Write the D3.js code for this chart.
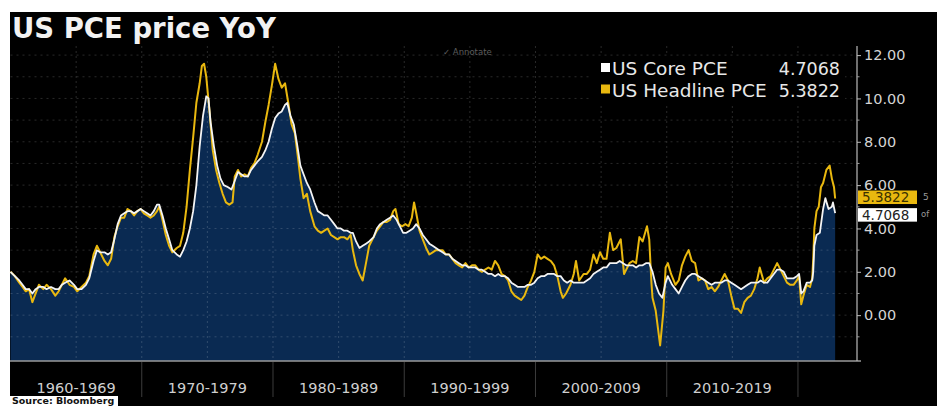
<!DOCTYPE html>
<html><head><meta charset="utf-8">
<script src="https://cdn.jsdelivr.net/npm/d3@7"></script>
<style>
html,body{margin:0;padding:0;background:#fff;}
svg{display:block;font-family:"DejaVu Sans",Verdana,sans-serif;}
</style></head><body>
<svg id="chart" width="937" height="406"></svg>
<script>
// US PCE price index, year-over-year %, monthly readings [month, value]
const headline = [
["1960-01",2.0],["1960-05",1.8],["1960-09",1.5],["1960-12",1.3],
["1961-03",1.1],["1961-06",1.2],["1961-09",0.6],["1961-12",1.0],
["1962-03",1.4],["1962-07",1.2],["1962-10",1.4],
["1963-02",1.2],["1963-06",0.9],["1963-09",1.1],["1963-12",1.4],
["1964-03",1.7],["1964-07",1.4],["1964-11",1.3],
["1965-02",1.1],["1965-06",1.3],["1965-10",1.5],
["1966-01",1.8],["1966-05",2.8],["1966-08",3.2],["1966-11",2.9],
["1967-03",2.5],["1967-06",2.3],["1967-09",2.6],["1967-12",3.6],
["1968-03",4.1],["1968-06",4.5],["1968-09",4.5],["1968-12",4.9],
["1969-03",4.8],["1969-06",4.6],["1969-09",4.8],["1969-12",4.9],
["1970-03",4.7],["1970-06",4.6],["1970-09",4.5],["1970-12",4.6],
["1971-03",4.8],["1971-05",5.0],["1971-08",4.4],["1971-11",3.7],
["1972-02",3.2],["1972-05",2.9],["1972-09",3.1],["1972-12",3.2],
["1973-03",3.8],["1973-06",5.0],["1973-09",6.7],["1973-12",8.2],
["1974-03",9.8],["1974-06",10.7],["1974-08",11.5],["1974-10",11.6],["1974-12",11.0],
["1975-03",9.4],["1975-06",7.6],["1975-09",6.7],["1975-12",6.1],
["1976-03",5.6],["1976-06",5.2],["1976-09",5.1],["1976-12",5.2],
["1977-02",6.4],["1977-05",6.7],["1977-08",6.4],["1977-11",6.5],
["1978-02",6.4],["1978-05",6.8],["1978-08",7.0],["1978-11",7.4],
["1979-03",8.0],["1979-06",8.9],["1979-09",9.7],["1979-12",10.6],
["1980-03",11.6],["1980-06",10.9],["1980-09",10.5],["1980-12",10.7],
["1981-03",9.8],["1981-06",8.8],["1981-09",8.4],["1981-12",7.2],
["1982-02",6.3],["1982-05",5.4],["1982-08",5.6],["1982-11",4.8],
["1983-03",4.1],["1983-06",3.9],["1983-09",3.8],["1983-12",3.9],
["1984-03",4.0],["1984-06",3.7],["1984-09",3.6],["1984-12",3.5],
["1985-03",3.6],["1985-06",3.6],["1985-09",3.5],["1985-12",3.7],
["1986-02",3.0],["1986-05",2.3],["1986-08",1.9],["1986-11",1.6],
["1987-02",2.4],["1987-05",3.2],["1987-09",3.6],["1987-12",3.9],
["1988-03",4.1],["1988-06",4.3],["1988-09",4.3],["1988-12",4.4],
["1989-03",4.8],["1989-05",4.9],["1989-08",4.2],["1989-11",4.1],
["1990-02",4.2],["1990-05",4.1],["1990-08",4.5],["1990-10",5.2],["1990-12",4.7],
["1991-03",3.9],["1991-06",3.5],["1991-09",3.1],["1991-12",2.8],
["1992-03",2.9],["1992-06",3.0],["1992-09",3.0],["1992-12",3.0],
["1993-03",2.8],["1993-06",2.8],["1993-09",2.6],["1993-12",2.4],
["1994-03",2.3],["1994-06",2.2],["1994-09",2.4],["1994-12",2.2],
["1995-03",2.3],["1995-06",2.3],["1995-09",2.1],["1995-12",2.0],
["1996-03",2.1],["1996-06",2.2],["1996-09",2.1],["1996-12",2.5],
["1997-03",2.3],["1997-06",1.9],["1997-09",1.8],["1997-12",1.6],
["1998-03",1.1],["1998-06",0.9],["1998-09",0.8],["1998-12",0.7],
["1999-03",0.9],["1999-06",1.3],["1999-09",1.6],["1999-12",2.0],
["2000-03",2.8],["2000-06",2.6],["2000-09",2.7],["2000-12",2.6],
["2001-03",2.5],["2001-06",2.3],["2001-09",1.8],["2001-12",1.1],
["2002-02",0.8],["2002-05",1.0],["2002-09",1.4],["2002-12",1.9],
["2003-02",2.5],["2003-05",1.6],["2003-09",1.9],["2003-12",1.9],
["2004-03",2.1],["2004-06",2.8],["2004-09",2.4],["2004-12",2.9],
["2005-03",2.6],["2005-06",2.6],["2005-09",3.8],["2005-12",3.0],
["2006-03",3.1],["2006-07",3.5],["2006-10",1.9],["2006-12",2.1],
["2007-03",2.4],["2007-06",2.5],["2007-09",2.4],["2007-12",3.6],
["2008-03",3.4],["2008-07",4.1],["2008-09",3.5],["2008-11",1.5],["2008-12",0.8],
["2009-03",0.2],["2009-07",-1.4],["2009-10",0.2],["2009-12",2.2],
["2010-02",2.4],["2010-05",1.9],["2010-09",1.4],["2010-12",1.6],
["2011-03",2.3],["2011-06",2.7],["2011-09",3.0],["2011-12",2.5],
["2012-03",2.4],["2012-06",1.6],["2012-09",1.7],["2012-12",1.6],
["2013-03",1.2],["2013-06",1.3],["2013-09",1.1],["2013-12",1.3],
["2014-03",1.6],["2014-06",1.9],["2014-09",1.6],["2014-12",0.9],
["2015-03",0.3],["2015-06",0.3],["2015-09",0.1],["2015-12",0.6],
["2016-03",0.8],["2016-06",0.9],["2016-09",1.2],["2016-12",1.7],
["2017-02",2.2],["2017-06",1.5],["2017-09",1.7],["2017-12",1.8],
["2018-03",2.1],["2018-06",2.4],["2018-09",2.1],["2018-12",1.8],
["2019-03",1.5],["2019-06",1.4],["2019-09",1.4],["2019-12",1.6],
["2020-02",1.8],["2020-04",0.5],["2020-06",0.9],["2020-09",1.4],["2020-12",1.3],
["2021-02",1.7],["2021-03",2.6],["2021-04",4.0],["2021-06",4.8],["2021-08",5.0],["2021-10",5.9],["2021-12",6.1],
["2022-03",6.7],["2022-06",6.9],["2022-08",6.3],["2022-10",5.9],["2022-11",5.3822]
];

const core = [
["1960-01",2.0],["1960-05",1.8],["1960-09",1.6],["1960-12",1.4],
["1961-03",1.2],["1961-06",1.2],["1961-09",1.0],["1961-12",1.2],
["1962-03",1.3],["1962-07",1.3],["1962-10",1.2],
["1963-02",1.3],["1963-06",1.2],["1963-09",1.2],["1963-12",1.4],
["1964-03",1.5],["1964-07",1.6],["1964-11",1.4],
["1965-02",1.2],["1965-06",1.2],["1965-10",1.4],
["1966-01",1.7],["1966-05",2.5],["1966-08",3.0],["1966-11",2.9],
["1967-03",2.9],["1967-06",2.8],["1967-09",2.9],["1967-12",3.5],
["1968-03",4.2],["1968-06",4.6],["1968-09",4.7],["1968-12",4.8],
["1969-03",4.8],["1969-06",4.7],["1969-09",4.8],["1969-12",4.9],
["1970-03",4.8],["1970-06",4.7],["1970-09",4.6],["1970-12",4.8],
["1971-03",5.1],["1971-05",5.1],["1971-08",4.6],["1971-11",4.0],
["1972-02",3.5],["1972-05",3.0],["1972-09",2.8],["1972-12",2.7],
["1973-03",3.0],["1973-06",3.4],["1973-09",4.0],["1973-12",4.8],
["1974-03",6.0],["1974-06",7.8],["1974-09",9.2],["1974-12",10.1],
["1975-02",10.0],["1975-04",8.9],["1975-07",7.8],["1975-10",6.9],
["1976-01",6.3],["1976-04",6.0],["1976-08",5.9],["1976-11",5.8],
["1977-02",6.2],["1977-05",6.6],["1977-08",6.5],["1977-11",6.4],
["1978-02",6.4],["1978-05",6.7],["1978-08",6.9],["1978-11",7.1],
["1979-03",7.3],["1979-06",7.6],["1979-09",8.0],["1979-12",8.6],
["1980-03",9.1],["1980-06",9.3],["1980-09",9.4],["1980-12",9.7],
["1981-02",9.8],["1981-05",9.2],["1981-08",8.8],["1981-11",7.9],
["1982-02",6.9],["1982-05",6.5],["1982-08",6.1],["1982-11",5.8],
["1983-03",5.2],["1983-06",4.8],["1983-09",4.7],["1983-12",4.6],
["1984-03",4.6],["1984-06",4.4],["1984-09",4.2],["1984-12",4.0],
["1985-03",4.0],["1985-06",3.9],["1985-09",3.9],["1985-12",3.8],
["1986-02",3.8],["1986-05",3.4],["1986-08",3.1],["1986-11",3.2],
["1987-02",3.3],["1987-05",3.4],["1987-09",3.6],["1987-12",4.0],
["1988-03",4.2],["1988-06",4.3],["1988-09",4.4],["1988-12",4.5],
["1989-03",4.6],["1989-06",4.4],["1989-09",4.1],["1989-12",3.8],
["1990-03",3.8],["1990-06",3.9],["1990-09",4.0],["1990-12",4.2],
["1991-03",4.0],["1991-06",3.7],["1991-09",3.5],["1991-12",3.3],
["1992-03",3.2],["1992-06",3.1],["1992-09",3.0],["1992-12",2.9],
["1993-03",2.8],["1993-06",2.8],["1993-09",2.6],["1993-12",2.5],
["1994-03",2.4],["1994-06",2.3],["1994-09",2.3],["1994-12",2.2],
["1995-03",2.2],["1995-06",2.2],["1995-09",2.1],["1995-12",2.1],
["1996-03",2.0],["1996-06",1.9],["1996-09",1.9],["1996-12",1.8],
["1997-03",1.9],["1997-06",1.8],["1997-09",1.8],["1997-12",1.7],
["1998-03",1.5],["1998-06",1.4],["1998-09",1.3],["1998-12",1.3],
["1999-03",1.3],["1999-06",1.4],["1999-09",1.4],["1999-12",1.5],
["2000-03",1.7],["2000-06",1.8],["2000-09",1.8],["2000-12",1.9],
["2001-03",1.9],["2001-06",1.9],["2001-09",1.8],["2001-12",1.8],
["2002-03",1.6],["2002-06",1.5],["2002-09",1.6],["2002-12",1.5],
["2003-03",1.5],["2003-06",1.5],["2003-09",1.5],["2003-12",1.6],
["2004-03",1.7],["2004-06",1.9],["2004-09",2.0],["2004-12",2.1],
["2005-03",2.2],["2005-06",2.2],["2005-09",2.4],["2005-12",2.4],
["2006-03",2.4],["2006-06",2.5],["2006-09",2.4],["2006-12",2.3],
["2007-03",2.3],["2007-06",2.3],["2007-09",2.2],["2007-12",2.3],
["2008-03",2.3],["2008-06",2.4],["2008-09",2.4],["2008-12",2.0],
["2009-03",1.4],["2009-06",1.0],["2009-09",0.8],["2009-12",1.5],
["2010-02",1.8],["2010-06",1.4],["2010-09",1.2],["2010-12",1.0],
["2011-03",1.3],["2011-06",1.6],["2011-09",1.8],["2011-12",1.9],
["2012-03",1.9],["2012-06",1.8],["2012-09",1.7],["2012-12",1.6],
["2013-03",1.5],["2013-06",1.4],["2013-09",1.5],["2013-12",1.5],
["2014-03",1.5],["2014-06",1.6],["2014-09",1.6],["2014-12",1.5],
["2015-03",1.4],["2015-06",1.3],["2015-09",1.2],["2015-12",1.3],
["2016-03",1.4],["2016-06",1.5],["2016-09",1.5],["2016-12",1.5],
["2017-03",1.6],["2017-06",1.5],["2017-09",1.5],["2017-12",1.7],
["2018-03",1.9],["2018-06",2.1],["2018-09",2.1],["2018-12",2.0],
["2019-03",1.7],["2019-06",1.7],["2019-09",1.7],["2019-12",1.8],
["2020-02",1.9],["2020-04",1.0],["2020-06",1.1],["2020-09",1.5],["2020-12",1.5],
["2021-02",1.6],["2021-03",2.0],["2021-04",3.2],["2021-06",3.7],["2021-09",3.8],["2021-12",4.9],
["2022-02",5.4],["2022-05",4.9],["2022-08",5.0],["2022-09",5.2],["2022-11",4.7068]
];

const seriesNames = ["US Core PCE", "US Headline PCE"];
const lastValues = [4.7068, 5.3822];
const yTicks = [0, 2, 4, 6, 8, 10, 12];
const decadeLabels = ["1960-1969","1970-1979","1980-1989","1990-1999","2000-2009","2010-2019"];

const W = 937, H = 406;
const GOLD = "#e9b80f", NAVY = "#0a2a52";
const parse = d3.timeParse("%Y-%m");
const toPts = arr => arr.map(([m, v]) => ({ date: parse(m), v }));
const corePts = toPts(core), headPts = toPts(headline);

const svg = d3.select("#chart");
// black chart panel
svg.append("rect").attr("x", 10).attr("y", 12).attr("width", W - 10).attr("height", H - 12).attr("fill", "#000");

const plotL = 10.5, plotR = 857, plotT = 46, plotB = 361;
const x = d3.scaleTime().domain([parse("1960-01"), parse("2024-07")]).range([plotL, plotR]);
const y = d3.scaleLinear().domain([-2.07, 12.42]).range([plotB - 1, plotT]);

// core area
svg.append("path").datum(corePts)
  .attr("d", d3.area().x(d => x(d.date)).y0(plotB).y1(d => y(d.v)))
  .attr("fill", NAVY);

// gridlines, drawn over the fill so they show on both black and navy
const grid = svg.append("g").attr("stroke", "#ffffff").attr("stroke-opacity", 0.16);
grid.selectAll("line.h").data(d3.range(-1, 13)).join("line").attr("class", "h")
  .attr("x1", plotL).attr("x2", plotR).attr("y1", d => y(d)).attr("y2", d => y(d))
  .attr("stroke-width", 1).attr("stroke-dasharray", "2,4");
grid.selectAll("line.v").data(d3.range(1965, 2021, 5)).join("line").attr("class", "v")
  .attr("x1", d => x(new Date(d, 0, 1))).attr("x2", d => x(new Date(d, 0, 1)))
  .attr("y1", plotT).attr("y2", plotB)
  .attr("stroke-width", 1).attr("stroke-dasharray", "2,3");

// lines
const line = d3.line().x(d => x(d.date)).y(d => y(d.v));
svg.append("path").datum(headPts).attr("d", line)
  .attr("fill", "none").attr("stroke", GOLD).attr("stroke-width", 2).attr("stroke-linejoin", "round");
svg.append("path").datum(corePts).attr("d", line)
  .attr("fill", "none").attr("stroke", "#f4f4f4").attr("stroke-width", 1.8).attr("stroke-linejoin", "round");

// bottom axis
svg.append("line").attr("x1", 10).attr("x2", plotR + 4).attr("y1", plotB).attr("y2", plotB)
  .attr("stroke", "#9a9a9a").attr("stroke-width", 1.5);
svg.selectAll("line.sep").data(d3.range(1970, 2021, 10)).join("line").attr("class", "sep")
  .attr("x1", d => x(new Date(d, 0, 1))).attr("x2", d => x(new Date(d, 0, 1)))
  .attr("y1", plotB + 1).attr("y2", H - 9)
  .attr("stroke", "#3c3c3c").attr("stroke-width", 1);
svg.selectAll("text.dec").data(decadeLabels).join("text").attr("class", "dec")
  .attr("x", (d, i) => (x(new Date(1960 + i * 10, 0, 1)) + x(new Date(1970 + i * 10, 0, 1))) / 2)
  .attr("y", 393).attr("text-anchor", "middle")
  .attr("font-size", 14.5).attr("fill", "#cfcfcf").text(d => d);

// right axis
const yAxis = svg.append("g").attr("transform", `translate(${plotR},0)`)
  .call(d3.axisRight(y).tickValues(yTicks).tickFormat(d3.format(".2f")).tickSize(4).tickPadding(3));
yAxis.select(".domain").remove();
yAxis.selectAll(".tick line").attr("stroke", "#bbb");
yAxis.selectAll(".tick text").attr("fill", "#d4d4d4").attr("font-size", 14.5)
  .attr("font-family", "DejaVu Sans, Verdana, sans-serif");
svg.append("line").attr("x1", plotR).attr("x2", plotR).attr("y1", plotT).attr("y2", plotB)
  .attr("stroke", "#bbb").attr("stroke-width", 1.2);
svg.selectAll("line.minor").data([-1, 1, 3, 5, 7, 9, 11]).join("line").attr("class", "minor")
  .attr("x1", plotR).attr("x2", plotR + 2.5).attr("y1", d => y(d)).attr("y2", d => y(d))
  .attr("stroke", "#999");

// last-value tags on the axis, nudged apart so they do not touch
const tags = [
  { v: lastValues[1], fill: GOLD, text: "#3a3000", nudge: -1.5 },
  { v: lastValues[0], fill: "#ffffff", text: "#222", nudge: 1.5 }
];
tags.forEach(t => {
  const cy = y(t.v) + t.nudge;
  svg.append("rect").attr("x", plotR + 1).attr("y", cy - 6.5).attr("width", 59).attr("height", 13.5).attr("fill", t.fill);
  svg.append("text").attr("x", plotR + 5).attr("y", cy + 5).attr("font-size", 13.5).attr("fill", t.text).text(d3.format(".4f")(t.v));
});
svg.append("text").attr("x", 923).attr("y", 200).attr("font-size", 9).attr("fill", "#9a9a9a").text("5");
svg.append("text").attr("x", 921).attr("y", 217).attr("font-size", 8.5).attr("fill", "#9a9a9a").text("of");

// legend
const lg = svg.append("g");
lg.append("rect").attr("x", 592).attr("y", 56).attr("width", 253).attr("height", 48).attr("fill", "#000");
const legendRows = [
  { name: seriesNames[0], v: lastValues[0], color: "#ffffff" },
  { name: seriesNames[1], v: lastValues[1], color: GOLD }
];
legendRows.forEach((r, i) => {
  const by = 75 + i * 21.5;
  lg.append("rect").attr("x", 601).attr("y", by - 12).attr("width", 9).attr("height", 9).attr("fill", r.color);
  lg.append("text").attr("x", 612).attr("y", by).attr("font-size", 18.5).attr("fill", "#e8e8e8").text(r.name);
  lg.append("text").attr("x", 840).attr("y", by).attr("text-anchor", "end").attr("font-size", 17.5).attr("fill", "#e8e8e8").text(d3.format(".4f")(r.v));
});

// faint annotate hint
svg.append("text").attr("x", 443).attr("y", 55).attr("font-size", 8.5).attr("fill", "#5c5c5c").text("✓ Annotate");

// title
svg.append("text").attr("x", 12).attr("y", 38).attr("font-size", 27.5).attr("font-weight", "bold")
  .attr("fill", "#f2f2f2").text("US PCE price YoY");

// source
svg.append("rect").attr("x", 10).attr("y", 396).attr("width", 108).attr("height", 10).attr("fill", "#fff");
svg.append("text").attr("x", 12).attr("y", 404).attr("font-size", 9.5).attr("font-weight", "bold")
  .attr("fill", "#111").text("Source: Bloomberg");
</script>
</body></html>
